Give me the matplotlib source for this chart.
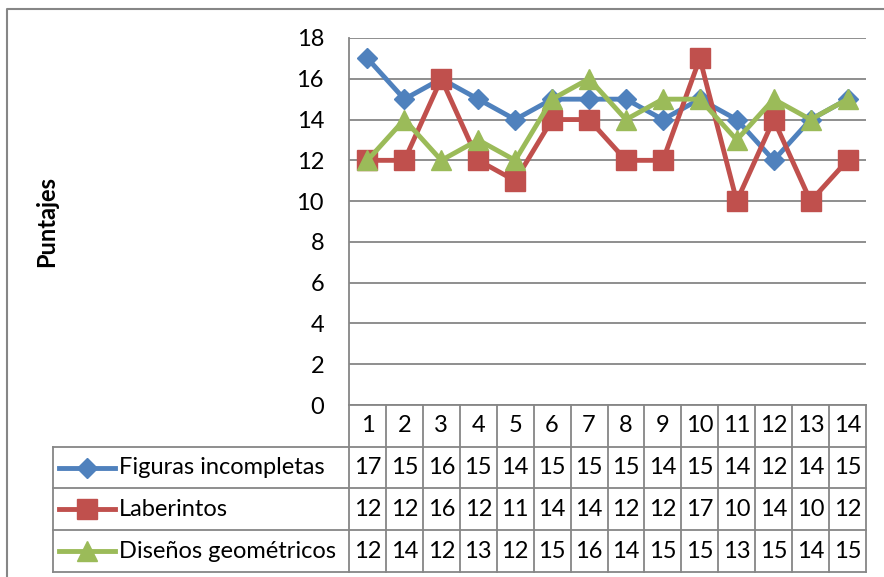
import matplotlib
matplotlib.use("Agg")
import matplotlib.pyplot as plt
import matplotlib.transforms as mtransforms
from matplotlib.lines import Line2D

plt.rcParams['font.family'] = ['Lato', 'DejaVu Sans']

categories = list(range(1, 15))
series_names = ["Figuras incompletas", "Laberintos", "Diseños geométricos"]
figuras = [17, 15, 16, 15, 14, 15, 15, 15, 14, 15, 14, 12, 14, 15]
laberintos = [12, 12, 16, 12, 11, 14, 14, 12, 12, 17, 10, 14, 10, 12]
disenos = [12, 14, 12, 13, 12, 15, 16, 14, 15, 15, 13, 15, 14, 15]
y_ticks = [0, 2, 4, 6, 8, 10, 12, 14, 16, 18]

series = [figuras, laberintos, disenos]
colors = ["#4F81BD", "#C0504D", "#9BBB59"]
markers = [("D", 10), ("s", 14), ("^", 14)]
grid_col = "#868686"
fsize = 17

W, H = 884, 577
fig = plt.figure(figsize=(W / 100, H / 100), dpi=100)

def fx(px):
    return px / W

def fy(py):
    return 1 - py / H

# plot area in pixels
left, right, top, bottom = 349, 866, 38, 405
ax = fig.add_axes([fx(left), fy(bottom), fx(right - left), fy(top) - fy(bottom)])

for vals, col, (m, ms) in zip(series, colors, markers):
    ax.plot(categories, vals, color=col, lw=3.5, marker=m, ms=ms,
            markeredgecolor=col, clip_on=False, zorder=3)

ax.set_xlim(0.5, len(categories) + 0.5)
ax.set_ylim(0, 18)
ax.set_yticks(y_ticks)
ax.set_xticks([])
ax.yaxis.grid(True, color=grid_col, lw=1.3)
ax.set_axisbelow(True)
for s in ["top", "right", "bottom"]:
    ax.spines[s].set_visible(False)
ax.spines["left"].set_color(grid_col)
ax.spines["left"].set_linewidth(1.3)
ax.tick_params(axis="y", length=0, labelsize=fsize, pad=18)
ax.set_ylabel("Puntajes", fontsize=17, fontweight="bold", labelpad=0)
ax.yaxis.set_label_coords(fx(58 - left) / (fx(right - left)), 0.5)

# data table under the plot
trans = mtransforms.blended_transform_factory(ax.transData, fig.transFigure)
row_edges = [405, 447, 488, 530, 572]
tab_left = 53
lkw = dict(color=grid_col, lw=1.3, clip_on=False)

n = len(categories)
for i in range(n + 1):
    xv = 0.5 + i
    fig.add_artist(Line2D([xv, xv], [fy(row_edges[0]), fy(row_edges[-1])],
                          transform=trans, **lkw))
fig.add_artist(Line2D([0.5, n + 0.5], [fy(row_edges[0])] * 2, transform=trans, **lkw))
for r in row_edges[1:]:
    fig.add_artist(Line2D([fx(tab_left), fx(right)], [fy(r)] * 2,
                          transform=fig.transFigure, **lkw))
fig.add_artist(Line2D([fx(tab_left)] * 2, [fy(row_edges[1]), fy(row_edges[-1])],
                      transform=fig.transFigure, **lkw))

def row_mid(k):
    return fy((row_edges[k] + row_edges[k + 1]) / 2)

for c in categories:
    fig.text(c, row_mid(0), str(c), transform=trans, ha="center", va="center", fontsize=fsize)

for k, (name, vals, col, (m, ms)) in enumerate(zip(series_names, series, colors, markers)):
    ym = row_mid(k + 1)
    fig.add_artist(Line2D([fx(59), fx(115)], [ym, ym], color=col, lw=3.5,
                          transform=fig.transFigure))
    fig.add_artist(Line2D([fx(87)], [ym], color=col, marker=m, ms=ms,
                          markeredgecolor=col, transform=fig.transFigure))
    fig.text(fx(119), ym, name, ha="left", va="center", fontsize=fsize)
    for c, v in zip(categories, vals):
        fig.text(c, ym, str(v), transform=trans, ha="center", va="center", fontsize=fsize)

# chart frame (cropped on the right and bottom in the source)
fig.add_artist(Line2D([fx(7), fx(7), 1.0], [0.0, fy(9), fy(9)], color=grid_col, lw=1.5,
                      transform=fig.transFigure))

fig.savefig("out.png", dpi=100)
